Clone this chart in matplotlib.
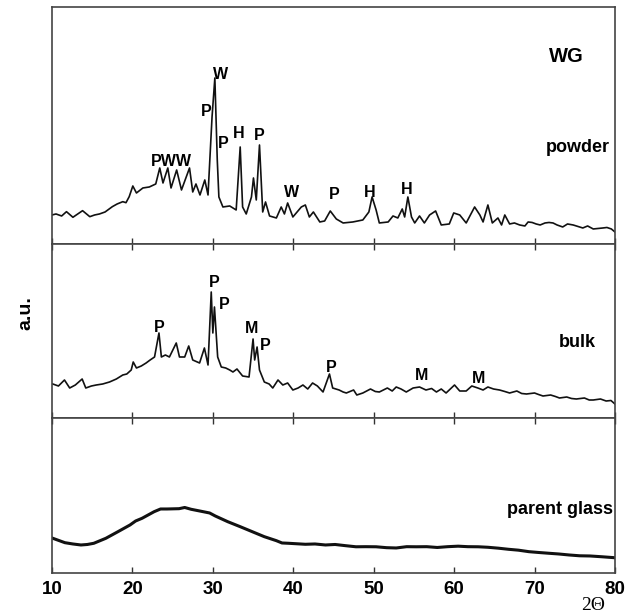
import matplotlib
matplotlib.use("Agg")
import matplotlib.pyplot as plt

plt.rcParams["font.family"] = ["Liberation Sans", "DejaVu Sans"]
plt.rcParams["font.weight"] = "bold"

# --- data (2theta, counts) ---
powder_x = [10.0, 10.5, 11.2, 11.8, 12.6, 13.2, 13.8, 14.7, 15.3, 15.9, 16.6, 17.5, 18.1, 18.8,
            19.2, 19.6, 20.05, 20.5, 21.3, 22.1, 22.9,
            23.4, 23.8, 24.4, 24.8, 25.5, 26.1, 27.1, 27.5, 27.9, 28.4, 29.0, 29.4, 29.9, 30.25,
            30.55, 30.75, 31.25, 32.1, 32.9, 33.4, 33.7, 34.15, 34.8, 35.05, 35.4, 35.8, 36.2,
            36.55, 37.05, 37.9, 38.5, 38.9, 39.3, 39.95, 41.0, 41.5, 42.0, 42.5, 43.3, 43.9, 44.6,
            45.35, 46.2, 47.4, 48.65, 49.4, 49.8, 50.3, 50.7, 51.8, 52.4, 53.0, 53.55, 53.85,
            54.25, 54.7, 55.1, 55.7, 56.3, 56.95, 57.7, 58.4, 59.4, 59.95, 60.7, 61.5, 62.55,
            63.2, 63.6, 64.2, 64.75, 65.45, 65.9, 66.3, 66.9, 67.5, 68.15, 68.8, 69.2, 69.7,
            70.2, 70.7, 71.3, 71.8, 72.3, 72.8, 73.5, 74.1, 74.8, 75.4, 76.0, 76.6, 77.3, 77.9,
            78.5, 79.0, 79.55, 80.0]
powder_y = [290, 300, 280, 323, 267, 300, 333, 273, 290, 300, 320, 373, 400, 423,
            413, 473, 580, 510, 560, 570, 600,
            760, 610, 760, 560, 740, 540, 760, 520, 600, 490, 640, 490, 1270, 1660,
            840, 470, 370, 380, 340, 970, 370, 300, 470, 660, 440, 990, 320,
            420, 280, 260, 370, 300, 410, 270, 370, 390, 270, 320, 220, 230, 330,
            250, 210, 220, 240, 320, 470, 340, 210, 220, 280, 260, 350, 270,
            470, 270, 210, 280, 210, 290, 330, 190, 200, 310, 290, 210, 370,
            290, 220, 390, 210, 260, 190, 290, 200, 210, 190, 180, 220, 215,
            200, 190, 210, 215, 210, 190, 170, 200, 190, 175, 160, 180, 150, 155,
            160, 165, 150, 120]

bulk_x = [10.1, 10.8, 11.55, 12.2, 12.9, 13.75, 14.2, 14.9, 15.5, 16.3, 17.15, 18.0, 18.8,
          19.3, 19.85, 20.1, 20.5, 21.1, 21.7, 22.2, 22.75,
          23.3, 23.6, 24.1, 24.6, 25.45, 25.85, 26.5, 27.0, 27.5, 28.35, 28.95, 29.4, 29.8, 30.0,
          30.2, 30.6, 31.05, 31.6, 32.1, 32.5, 33.0, 33.7, 34.5, 35.0, 35.2, 35.5, 35.8, 36.4,
          37.0, 37.45, 38.1, 38.7, 39.3, 39.95, 40.6, 41.2, 41.8, 42.4, 43.0, 43.7, 44.5, 44.9,
          45.7, 46.2, 46.6, 47.5, 47.9, 48.65, 49.6, 50.2, 50.7, 51.7, 52.3, 52.8, 53.4, 54.05,
          54.9, 55.7, 56.5, 57.2, 57.8, 58.4, 59.0, 60.05, 60.7, 61.5, 62.2, 62.95, 63.6, 64.2,
          64.9, 65.65, 66.3, 66.9, 67.8, 68.4, 69.0, 70.0, 70.5, 71.05, 72.0, 72.6, 73.1, 74.0,
          74.6, 75.2, 76.2, 76.8, 77.3, 78.2, 78.9, 79.5, 80.0]
bulk_y = [340, 320, 380, 300, 330, 390, 300, 320, 330, 340, 360, 390, 430,
          440, 480, 560, 500, 520, 550, 580, 610,
          850, 610, 630, 610, 750, 610, 610, 720, 580, 550, 700, 530, 1260, 850,
          1110, 610, 510, 500, 480, 460, 490, 420, 410, 790, 580, 710, 480, 360,
          340, 300, 380, 330, 350, 280, 300, 330, 290, 350, 320, 260, 440, 300,
          280, 260, 250, 280, 230, 250, 290, 265, 260, 300, 270, 310, 290, 260,
          300, 310, 280, 295, 260, 290, 250, 330, 270, 270, 320, 300, 280, 310,
          290, 280, 265, 250, 270, 245, 240, 250, 235, 220, 230, 215, 200, 210,
          195, 190, 200, 180, 180, 190, 170, 175, 140]

glass_x = [10.1, 11.6, 12.6, 13.6, 14.4, 15.2, 16.7, 18.2, 19.7, 20.4, 21.2, 22.7, 23.5,
           24.3, 25.8, 26.5, 27.3, 28.8, 29.6, 30.3, 31.85, 33.4, 34.9, 36.4, 37.9, 38.6,
           39.4, 41.5, 42.7, 44.0, 45.2, 46.5, 47.8, 49.0, 50.3, 51.6, 52.8, 54.1, 55.3,
           56.6, 57.9, 59.2, 60.5, 61.7, 63.0, 64.2, 65.5, 66.75, 68.0, 69.3, 70.5, 71.8,
           73.0, 74.3, 75.6, 76.9, 78.4, 79.9]
glass_y = [347, 303, 290, 280, 285, 297, 347, 413, 480, 520, 547, 613, 640,
           640, 643, 655, 637, 613, 600, 570, 513, 463, 413, 363, 323, 300,
           297, 287, 290, 280, 285, 273, 262, 263, 262, 253, 250, 263, 262,
           263, 255, 263, 268, 263, 262, 257, 248, 237, 228, 213, 205, 197,
           190, 180, 172, 170, 162, 153]

# peak labels (phase, 2theta, counts)
powder_peaks = [("PWW", 24.9, 820), ("P", 29.2, 1320), ("W", 30.9, 1690), ("P", 31.25, 1007),
                ("H", 33.2, 1100), ("P", 35.8, 1080), ("W", 39.75, 513), ("P", 45.05, 490),
                ("H", 49.5, 513), ("H", 54.05, 547)]
bulk_peaks = [("P", 23.3, 900), ("P", 30.2, 1350), ("P", 31.45, 1130), ("M", 34.8, 890),
              ("P", 36.5, 720), ("P", 44.7, 500), ("M", 56.0, 420), ("M", 63.1, 390)]

fig = plt.figure(figsize=(6.38, 6.13), dpi=100)
left, width = 0.0815, 0.8824
ax1 = fig.add_axes([left, 0.6020, width, 0.3866])
ax2 = fig.add_axes([left, 0.3181, width, 0.2839])
ax3 = fig.add_axes([left, 0.0653, width, 0.2528])

ax1.plot(powder_x, powder_y, color="#111111", lw=1.2)
ax2.plot(bulk_x, bulk_y, color="#111111", lw=1.2)
ax3.plot(glass_x, glass_y, color="#111111", lw=2.2)

ax1.set_ylim(0, 2370)
ax2.set_ylim(0, 1740)
ax3.set_ylim(0, 1550)

for ax in (ax1, ax2, ax3):
    ax.set_xlim(10, 80)
    ax.set_yticks([])
    ax.set_xticks(range(10, 81, 10))
    ax.tick_params(axis="x", direction="in", length=4, width=1, top=True,
                   labelbottom=False, color="#333333")
    for s in ax.spines.values():
        s.set_linewidth(1.2)
        s.set_color("#444444")
ax1.tick_params(axis="x", top=False)
ax3.tick_params(axis="x", labelbottom=True, labelsize=13.5, pad=6)
for lab in ax3.get_xticklabels():
    lab.set_fontweight("bold")

for txt, x, y in powder_peaks:
    ax1.text(x, y, txt, ha="center", va="center", fontsize=11.5, fontweight="bold")
for txt, x, y in bulk_peaks:
    ax2.text(x, y, txt, ha="center", va="center", fontsize=11.5, fontweight="bold")

ax1.text(74.0, 1870, "WG", ha="center", va="center", fontsize=14.5, fontweight="bold")
ax1.text(79.4, 960, "powder", ha="right", va="center", fontsize=13, fontweight="bold")
ax2.text(75.3, 750, "bulk", ha="center", va="center", fontsize=13, fontweight="bold")
ax3.text(79.7, 630, "parent glass", ha="right", va="center", fontsize=13, fontweight="bold")

fig.text(0.04, 0.49, "a.u.", rotation=90, ha="center", va="center",
         fontsize=14, fontweight="bold")
fig.text(0.93, 0.013, "2\u0398", ha="center", va="center", fontsize=14,
         family=["Liberation Serif", "DejaVu Serif"], fontweight="normal")

fig.savefig("out.png", dpi=100)
